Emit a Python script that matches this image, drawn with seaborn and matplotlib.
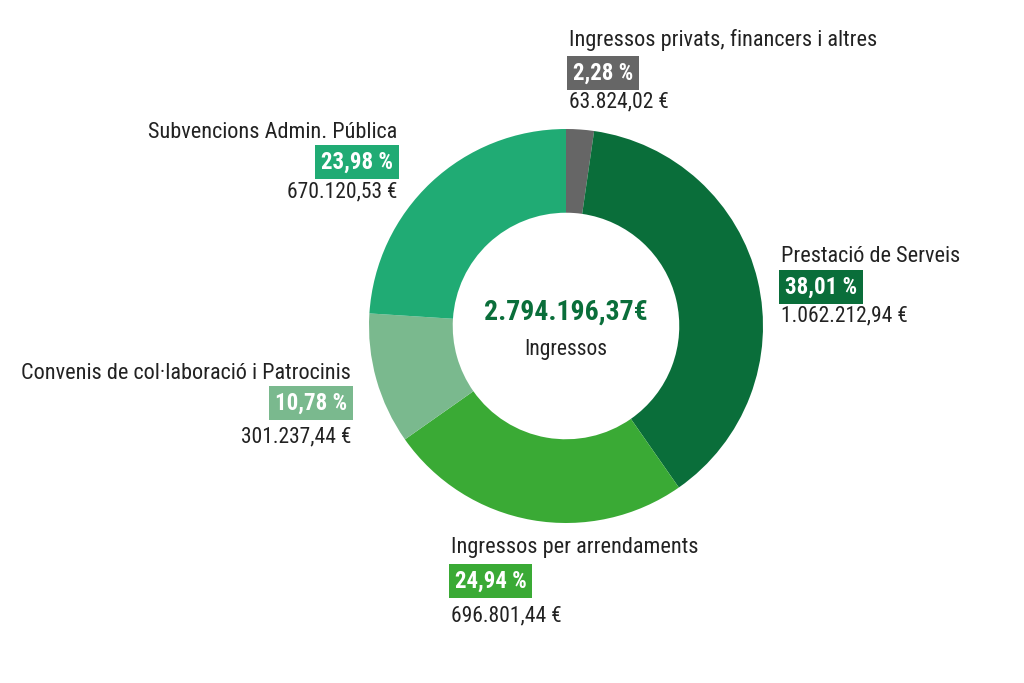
import matplotlib
matplotlib.use("Agg")
import matplotlib.pyplot as plt
from matplotlib import font_manager
import seaborn as sns

sns.set_theme(style="white")

# busquem una lletra estreta, si n'hi ha
narrow = None
for fam in ['Roboto Condensed', 'Liberation Sans Narrow', 'Open Sans Condensed', 'Noto Sans Display']:
    try:
        font_manager.findfont(fam, fallback_to_default=False)
        narrow = fam
        break
    except ValueError:
        pass
plt.rcParams['font.family'] = [narrow or 'Liberation Sans', 'DejaVu Sans']
fs = 16 if narrow else 13

# Dades
categories = ['Ingressos privats, financers i altres', 'Prestació de Serveis',
              'Ingressos per arrendaments', 'Convenis de col·laboració i Patrocinis',
              'Subvencions Admin. Pública']
percentages = [2.28, 38.01, 24.94, 10.78, 23.98]
pct_labels = ['2,28 %', '38,01 %', '24,94 %', '10,78 %', '23,98 %']
amounts = ['63.824,02 €', '1.062.212,94 €', '696.801,44 €', '301.237,44 €', '670.120,53 €']
total_label = '2.794.196,37€'
colors = ['#666666', '#0a6e3a', '#3aaa35', '#7ab98e', '#20ab74']

W, H = 1024, 683
fig = plt.figure(figsize=(W / 100, H / 100), dpi=100)

# eix del donut (centre ~ (566, 326) px, radi ~197 px)
cx, cy, r = 566, 326, 197
ax = fig.add_axes([(cx - r) / W, (H - cy - r) / H, 2 * r / W, 2 * r / H])
ax.pie(percentages, colors=colors, startangle=90, counterclock=False, radius=1,
       wedgeprops=dict(width=0.425, edgecolor='none'))
ax.set_xlim(-1, 1)
ax.set_ylim(-1, 1)
ax.set_aspect('equal')
ax.axis('off')


def px(x, y):
    return x / W, 1 - y / H


# text central
fig.text(*px(cx, 312), total_label, ha='center', va='center', fontsize=fs + 4,
         fontweight='bold', color='#0a6e3a')
fig.text(*px(cx, 350), 'Ingressos', ha='center', va='center', fontsize=fs - 0.5, color='#222222')

# posicions de les etiquetes: (x, y títol, y badge, y import, alineació)
label_pos = [
    (569, 40, 73, 102, 'left'),
    (781, 257, 287, 316, 'left'),
    (451, 548, 581, 616, 'left'),
    (351, 373, 403, 437, 'right'),
    (397, 133, 162, 192, 'right'),
]

for i, (x, yt, yb, ya, ha) in enumerate(label_pos):
    fig.text(*px(x, yt), categories[i], ha=ha, va='center', fontsize=fs, color='#222222')
    fig.text(*px(x + (4 if ha == 'left' else -4), yb), pct_labels[i], ha=ha, va='center',
             fontsize=fs + 0.5, fontweight='bold', color='white',
             bbox=dict(boxstyle='square,pad=0.25', fc=colors[i], ec='none'))
    fig.text(*px(x, ya), amounts[i], ha=ha, va='center', fontsize=fs - 0.5, color='#222222')

fig.savefig('out.png', dpi=100, facecolor='white')
